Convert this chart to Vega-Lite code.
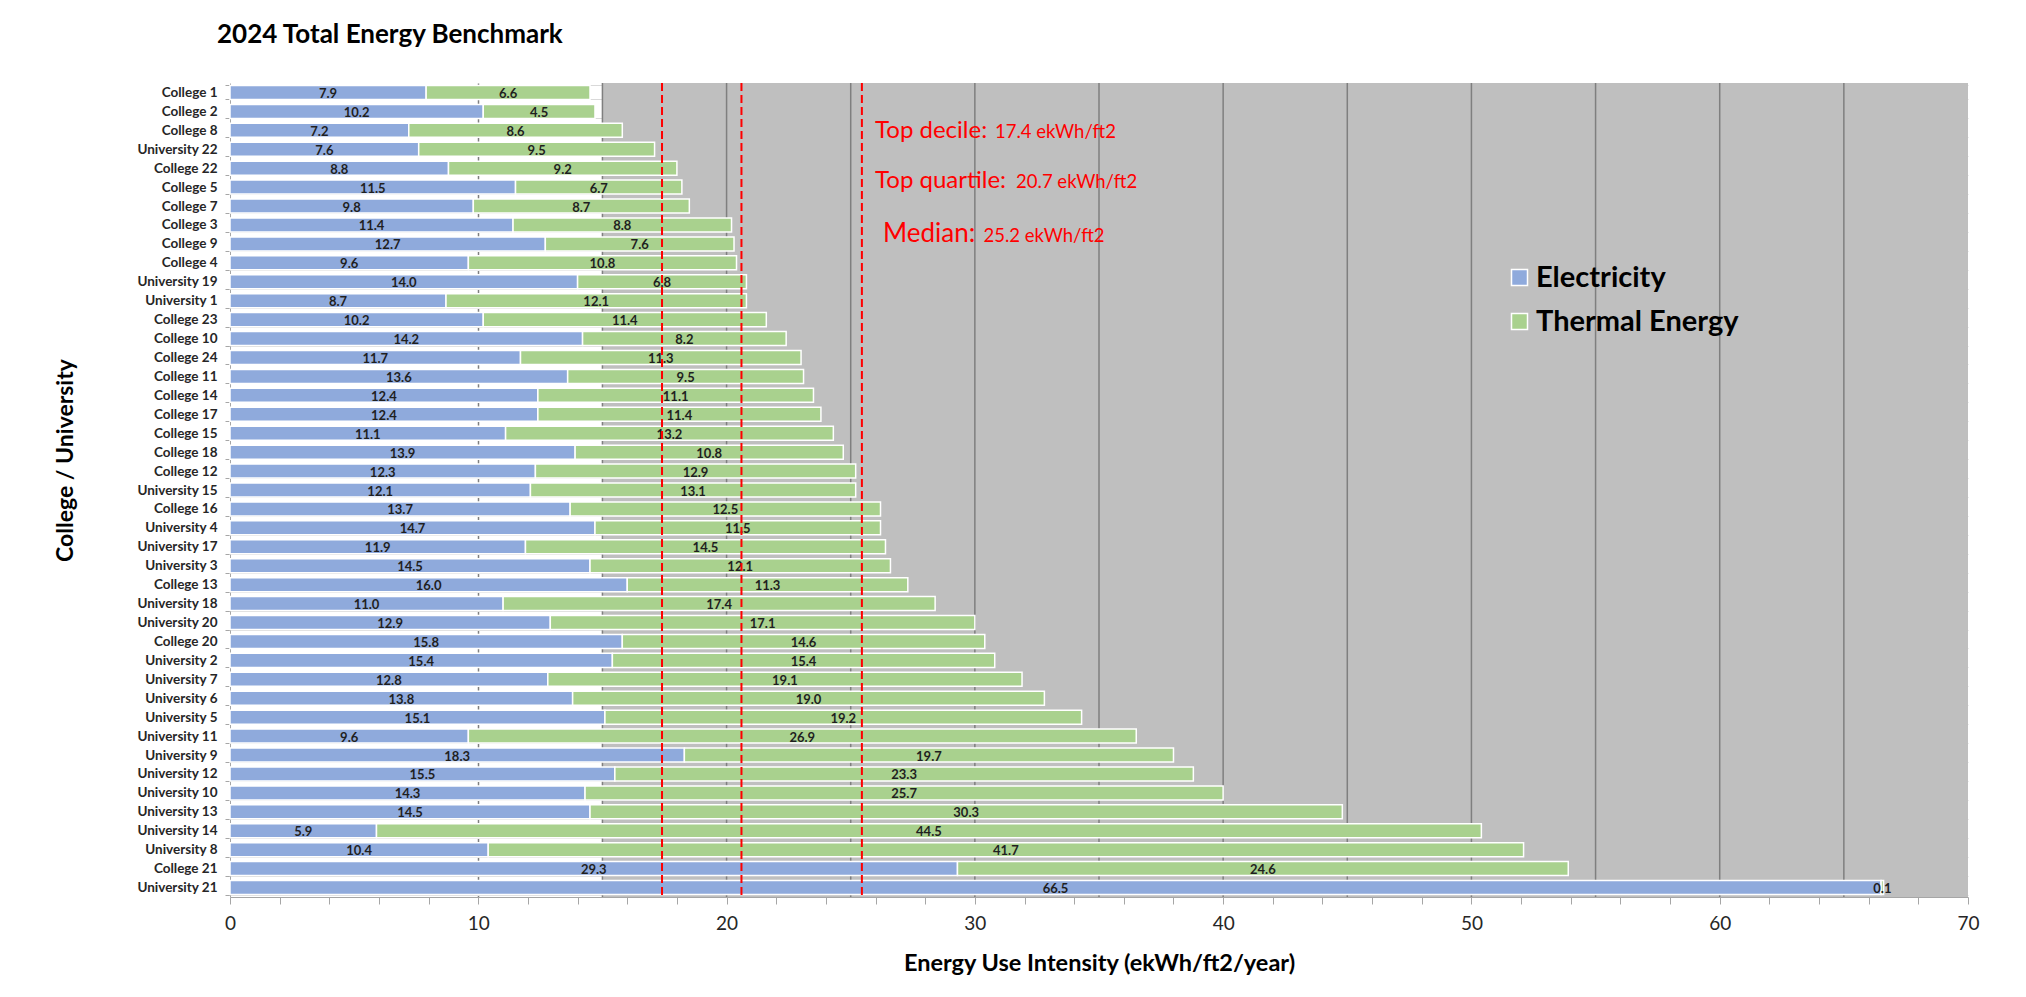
{
  "$schema": "https://vega.github.io/schema/vega-lite/v6.json",
  "autosize": {"type": "none"},
  "padding": {"left": 230, "top": 83, "right": 58, "bottom": 100},
  "width": 1738,
  "height": 814,
  "background": "white",
  "title": {
    "text": "2024 Total Energy Benchmark",
    "anchor": "start",
    "frame": "group",
    "dx": -13,
    "offset": 28,
    "font": "Lato",
    "fontSize": 26,
    "fontWeight": "bold",
    "color": "#000000"
  },
  "config": {
    "view": {"stroke": null},
    "font": "Lato"
  },
  "resolve": {"scale": {"y": "independent"}},
  "layer": [
    {
      "data": {"values": [{"from": 15, "to": 70}]},
      "mark": {"type": "rect", "color": "#BFBFBF"},
      "encoding": {
        "x": {"field": "from", "type": "quantitative", "scale": {"domain": [0, 70], "nice": false, "zero": true}},
        "x2": {"field": "to"}
      }
    },
    {
      "data": {"values": [{"g": 15}, {"g": 20}, {"g": 25}, {"g": 30}, {"g": 35}, {"g": 40}, {"g": 45}, {"g": 50}, {"g": 55}, {"g": 60}, {"g": 65}]},
      "mark": {"type": "rule", "color": "#7F7F7F", "strokeWidth": 1.5},
      "encoding": {"x": {"field": "g", "type": "quantitative"}}
    },
    {
      "data": {"name": "bench"},
      "transform": [{"fold": ["Electricity", "Thermal Energy"], "as": ["type", "value"]}],
      "layer": [
        {
          "mark": {"type": "bar", "stroke": "white", "strokeWidth": 1.5},
          "encoding": {
            "y": {
              "field": "name",
              "type": "nominal",
              "sort": {"field": "rank", "op": "min"},
              "scale": {"paddingInner": 0.26, "paddingOuter": 0.13},
              "axis": {
                "title": "College / University",
                "titleFont": "Lato",
                "titleFontSize": 23,
                "titleFontWeight": "bold",
                "titleColor": "#000000",
                "titleAngle": 270,
                "titleX": -165,
                "titleY": 377,
                "titleAlign": "center",
                "titleBaseline": "middle",
                "labelFont": "Lato",
                "labelFontSize": 13.5,
                "labelFontWeight": "bold",
                "labelColor": "#262626",
                "labelPadding": 8,
                "tickBand": "extent",
                "tickSize": 5,
                "tickColor": "#A6A6A6",
                "domainColor": "#A6A6A6",
                "grid": true,
                "gridColor": "#D9D9D9",
                "gridWidth": 1
              }
            },
            "x": {
              "field": "value",
              "type": "quantitative",
              "stack": "zero",
              "axis": {
                "title": "Energy Use Intensity (ekWh/ft2/year)",
                "titleFont": "Lato",
                "titleFontSize": 23.5,
                "titleFontWeight": "bold",
                "titleColor": "#000000",
                "titleY": 54,
                "titleBaseline": "top",
                "values": [0,1,2,3,4,5,6,7,8,9,10,11,12,13,14,15,16,17,18,19,20,21,22,23,24,25,26,27,28,29,30,31,32,33,34,35,36,37,38,39,40,41,42,43,44,45,46,47,48,49,50,51,52,53,54,55,56,57,58,59,60,61,62,63,64,65,66,67,68,69,70],
                "labelExpr": "datum.value % 5 === 0 ? datum.label : ''",
                "labelFont": "Lato",
                "labelFontSize": 19,
                "labelColor": "#262626",
                "labelPadding": 10,
                "labelFlush": false,
                "labelOverlap": false,
                "tickSize": 7,
                "tickColor": "#A6A6A6",
                "domainColor": "#A6A6A6",
                "grid": true,
                "gridColor": "#7F7F7F",
                "gridWidth": 1.5,
                "gridOpacity": {"condition": {"test": "datum.value % 5 !== 0 || datum.value === 0 || datum.value === 70", "value": 0}, "value": 1}
              }
            },
            "order": {"field": "type", "sort": "ascending"},
            "color": {
              "field": "type",
              "type": "nominal",
              "scale": {"domain": ["Electricity", "Thermal Energy"], "range": ["#8FAADC", "#A9D18E"]},
              "legend": {
                "title": null,
                "orient": "none",
                "legendX": 1275,
                "legendY": 180,
                "padding": 0,
                "symbolType": "square",
                "symbolSize": 256,
                "symbolStrokeColor": "white",
                "symbolStrokeWidth": 1.5,
                "labelFont": "Lato",
                "labelFontSize": 29,
                "labelFontWeight": "bold",
                "labelColor": "#000000",
                "labelLimit": 0,
                "labelOffset": 2,
                "rowPadding": 14
              }
            }
          }
        },
        {
          "mark": {"type": "text", "font": "Lato", "fontSize": 13, "fontWeight": "bold", "color": "#1F1F1F", "baseline": "middle", "dy": 1.5},
          "encoding": {
            "y": {"field": "name", "type": "nominal", "sort": {"field": "rank", "op": "min"}},
            "x": {"field": "value", "type": "quantitative", "stack": "zero", "bandPosition": 0.5},
            "detail": {"field": "type"},
            "order": {"field": "type", "sort": "ascending"},
            "text": {"field": "value", "type": "quantitative", "format": ".1f"}
          }
        }
      ]
    },
    {
      "data": {"values": [{"v": 17.4}, {"v": 20.6}, {"v": 25.45}]},
      "mark": {"type": "rule", "color": "#FF0000", "strokeWidth": 2, "strokeDash": [8, 4]},
      "encoding": {"x": {"field": "v", "type": "quantitative"}}
    },
    {
      "data": {"values": [{"t": "Top decile:", "x": 25.98, "r": 2.9}, {"t": "Top quartile:", "x": 25.98, "r": 5.55}]},
      "mark": {"type": "text", "font": "Lato", "fontSize": 24, "color": "#FF0000", "align": "left", "baseline": "alphabetic"},
      "encoding": {
        "x": {"field": "x", "type": "quantitative"},
        "y": {"field": "r", "type": "quantitative", "scale": {"domain": [0, 43], "reverse": true}, "axis": null},
        "text": {"field": "t"}
      }
    },
    {
      "data": {"values": [{"t": "Median:", "x": 26.3, "r": 8.4}]},
      "mark": {"type": "text", "font": "Lato", "fontSize": 26, "color": "#FF0000", "align": "left", "baseline": "alphabetic"},
      "encoding": {
        "x": {"field": "x", "type": "quantitative"},
        "y": {"field": "r", "type": "quantitative", "scale": {"domain": [0, 43], "reverse": true}, "axis": null},
        "text": {"field": "t"}
      }
    },
    {
      "data": {"values": [{"t": "17.4 ekWh/ft2", "x": 30.81, "r": 2.9}, {"t": "20.7 ekWh/ft2", "x": 31.66, "r": 5.55}, {"t": "25.2 ekWh/ft2", "x": 30.35, "r": 8.4}]},
      "mark": {"type": "text", "font": "Lato", "fontSize": 18.5, "color": "#FF0000", "align": "left", "baseline": "alphabetic"},
      "encoding": {
        "x": {"field": "x", "type": "quantitative"},
        "y": {"field": "r", "type": "quantitative", "scale": {"domain": [0, 43], "reverse": true}, "axis": null},
        "text": {"field": "t"}
      }
    }
  ],
  "datasets": {
    "bench": [
      {"rank": 1, "name": "College 1", "Electricity": 7.9, "Thermal Energy": 6.6},
      {"rank": 2, "name": "College 2", "Electricity": 10.2, "Thermal Energy": 4.5},
      {"rank": 3, "name": "College 8", "Electricity": 7.2, "Thermal Energy": 8.6},
      {"rank": 4, "name": "University 22", "Electricity": 7.6, "Thermal Energy": 9.5},
      {"rank": 5, "name": "College 22", "Electricity": 8.8, "Thermal Energy": 9.2},
      {"rank": 6, "name": "College 5", "Electricity": 11.5, "Thermal Energy": 6.7},
      {"rank": 7, "name": "College 7", "Electricity": 9.8, "Thermal Energy": 8.7},
      {"rank": 8, "name": "College 3", "Electricity": 11.4, "Thermal Energy": 8.8},
      {"rank": 9, "name": "College 9", "Electricity": 12.7, "Thermal Energy": 7.6},
      {"rank": 10, "name": "College 4", "Electricity": 9.6, "Thermal Energy": 10.8},
      {"rank": 11, "name": "University 19", "Electricity": 14.0, "Thermal Energy": 6.8},
      {"rank": 12, "name": "University 1", "Electricity": 8.7, "Thermal Energy": 12.1},
      {"rank": 13, "name": "College 23", "Electricity": 10.2, "Thermal Energy": 11.4},
      {"rank": 14, "name": "College 10", "Electricity": 14.2, "Thermal Energy": 8.2},
      {"rank": 15, "name": "College 24", "Electricity": 11.7, "Thermal Energy": 11.3},
      {"rank": 16, "name": "College 11", "Electricity": 13.6, "Thermal Energy": 9.5},
      {"rank": 17, "name": "College 14", "Electricity": 12.4, "Thermal Energy": 11.1},
      {"rank": 18, "name": "College 17", "Electricity": 12.4, "Thermal Energy": 11.4},
      {"rank": 19, "name": "College 15", "Electricity": 11.1, "Thermal Energy": 13.2},
      {"rank": 20, "name": "College 18", "Electricity": 13.9, "Thermal Energy": 10.8},
      {"rank": 21, "name": "College 12", "Electricity": 12.3, "Thermal Energy": 12.9},
      {"rank": 22, "name": "University 15", "Electricity": 12.1, "Thermal Energy": 13.1},
      {"rank": 23, "name": "College 16", "Electricity": 13.7, "Thermal Energy": 12.5},
      {"rank": 24, "name": "University 4", "Electricity": 14.7, "Thermal Energy": 11.5},
      {"rank": 25, "name": "University 17", "Electricity": 11.9, "Thermal Energy": 14.5},
      {"rank": 26, "name": "University 3", "Electricity": 14.5, "Thermal Energy": 12.1},
      {"rank": 27, "name": "College 13", "Electricity": 16.0, "Thermal Energy": 11.3},
      {"rank": 28, "name": "University 18", "Electricity": 11.0, "Thermal Energy": 17.4},
      {"rank": 29, "name": "University 20", "Electricity": 12.9, "Thermal Energy": 17.1},
      {"rank": 30, "name": "College 20", "Electricity": 15.8, "Thermal Energy": 14.6},
      {"rank": 31, "name": "University 2", "Electricity": 15.4, "Thermal Energy": 15.4},
      {"rank": 32, "name": "University 7", "Electricity": 12.8, "Thermal Energy": 19.1},
      {"rank": 33, "name": "University 6", "Electricity": 13.8, "Thermal Energy": 19.0},
      {"rank": 34, "name": "University 5", "Electricity": 15.1, "Thermal Energy": 19.2},
      {"rank": 35, "name": "University 11", "Electricity": 9.6, "Thermal Energy": 26.9},
      {"rank": 36, "name": "University 9", "Electricity": 18.3, "Thermal Energy": 19.7},
      {"rank": 37, "name": "University 12", "Electricity": 15.5, "Thermal Energy": 23.3},
      {"rank": 38, "name": "University 10", "Electricity": 14.3, "Thermal Energy": 25.7},
      {"rank": 39, "name": "University 13", "Electricity": 14.5, "Thermal Energy": 30.3},
      {"rank": 40, "name": "University 14", "Electricity": 5.9, "Thermal Energy": 44.5},
      {"rank": 41, "name": "University 8", "Electricity": 10.4, "Thermal Energy": 41.7},
      {"rank": 42, "name": "College 21", "Electricity": 29.3, "Thermal Energy": 24.6},
      {"rank": 43, "name": "University 21", "Electricity": 66.5, "Thermal Energy": 0.1}
    ]
  }
}
